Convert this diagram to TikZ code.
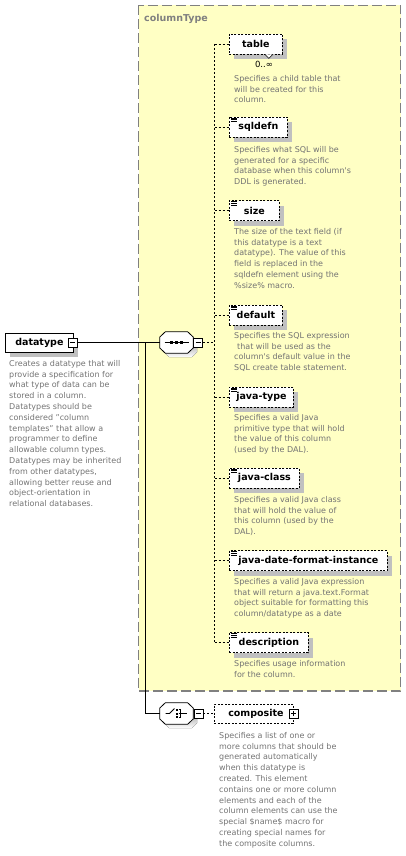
\documentclass[tikz,border=0pt]{standalone}
\usepackage{fontspec}
\setmainfont{DejaVu Sans}
\usetikzlibrary{shadows}
\definecolor{groupbg}{HTML}{FFFFC4}
\definecolor{groupline}{HTML}{808080}
\definecolor{doctext}{HTML}{737373}
\definecolor{shade}{HTML}{C0C0C0}
\newcommand\namefont{\bfseries\fontsize{9.5}{11}\selectfont}
\newcommand\docfont{\fontsize{8}{10.8}\selectfont}
% octagon outline round a compositor node, with its shadow
\newcommand\octpath[2]{([yshift=5.5pt,#2]#1.west) -- ([xshift=5.5pt,#2]#1.north west)
  -- ([xshift=-5.5pt,#2]#1.north east) -- ([yshift=5.5pt,#2]#1.east)
  -- ([yshift=-5.5pt,#2]#1.east) -- ([xshift=-5.5pt,#2]#1.south east)
  -- ([xshift=5.5pt,#2]#1.south west) -- ([yshift=-5.5pt,#2]#1.west) -- cycle}
\newcommand\octagon[1]{%
  \fill[shade] \octpath{#1}{xshift=4pt,yshift=-4pt};
  \filldraw[fill=white, draw=black, line width=0.8pt] \octpath{#1}{};}
\tikzset{
  groupbox/.style={draw=groupline, fill=groupbg, line width=1.3pt, dash pattern=on 10pt off 4pt},
  grouptitle/.style={anchor=west, inner sep=0pt, text=groupline, font=\namefont},
  elem/.style={draw=black, fill=white, line width=0.8pt, dash pattern=on 2pt off 1.5pt,
    minimum height=20pt, inner sep=0pt, anchor=west, font=\namefont,
    drop shadow={shadow xshift=5pt, shadow yshift=-5pt, opacity=1, fill=shade}},
  rootbox/.style={elem, solid},
  optbox/.style={draw=black, fill=white, line width=0.8pt, dash pattern=on 2pt off 1.5pt,
    minimum height=19pt, inner sep=0pt, anchor=west, font=\namefont},
  compositor/.style={minimum width=33pt, minimum height=21pt, inner sep=0pt},
  toggle/.style={draw=black, fill=white, line width=0.6pt, minimum size=9pt, inner sep=0pt,
    path picture={\draw[line width=0.6pt] ([xshift=2pt]path picture bounding box.west)
      -- ([xshift=-2pt]path picture bounding box.east);}},
  expander/.style={toggle,
    path picture={\draw[line width=0.6pt] ([xshift=2pt]path picture bounding box.west)
      -- ([xshift=-2pt]path picture bounding box.east)
      ([yshift=2pt]path picture bounding box.south)
      -- ([yshift=-2pt]path picture bounding box.north);}},
  doc/.style={anchor=north west, align=left, inner sep=0pt, text=doctext, font=\docfont},
  mult/.style={inner sep=0pt, font=\fontsize{8.5}{10}\selectfont},
  wire/.style={draw=black, line width=0.9pt},
  link/.style={draw=black, line width=0.8pt, dash pattern=on 2pt off 2pt},
}
\begin{document}
\begin{tikzpicture}[x=1pt, y=-1pt]
  \useasboundingbox (0,0) rectangle (406,856);
  % complex type group
  \draw[groupbox] (138.5,5.5) rectangle (400.5,691);
  \node[grouptitle] (grpTitle) at (144,19) {columnType};

  % root element
  \node[rootbox, minimum width=68pt, minimum height=19pt] (datatype) at (5,342.5) {datatype\hspace{4pt}};
  \node[toggle] (dtToggle) at (72.5,342.5) {};
  \node[doc] (datatypeDoc) at (9,360) {Creates a datatype that will\\ provide a specification for\\
    what type of data can be\\ stored in a column.\\ Datatypes should be\\ considered "column\\
    templates" that allow a\\ programmer to define\\ allowable column types.\\
    Datatypes may be inherited\\ from other datatypes,\\ allowing better reuse and\\
    object-orientation in\\ relational databases.};
  \coordinate (fork) at (145,342.5);

  % sequence
  \node[compositor] (seq) at (176.5,342.5) {};
  \octagon{seq}
  \draw[line width=0.9pt] ([xshift=-12pt]seq.center) -- ([xshift=12pt]seq.center);
  \foreach \dx in {-5,0,5}
    \fill ([xshift=\dx pt]seq.center) ++(-1.6,-1.6) rectangle ++(3.2,3.2);
  \node[toggle] (seqToggle) at (198,342.5) {};
  \coordinate (spine) at (214.5,0);

  % children of the sequence
  \node[elem, minimum width=53pt] (table) at (229,44) {table};
  \draw[line width=0.6pt, fill=white] ([xshift=9pt]table.south) -- ++(4,4) -- ++(4,-4);
  \node[mult] (tableMult) at (264,64) {0..∞};
  \node[doc] (tableDoc) at (234,75) {Specifies a child table that\\ will be created for this\\ column.};

  \node[elem, minimum width=58pt] (sqldefn) at (229,127) {sqldefn};
  \node[doc] (sqldefnDoc) at (234,146) {Specifies what SQL will be\\ generated for a specific\\
    database when this column\textquotesingle s\\ DDL is generated.};

  \node[elem, minimum width=50pt] (size) at (229,210.5) {size};
  \node[doc] (sizeDoc) at (234,228) {The size of the text field (if\\ this datatype is a text\\
    datatype). The value of this\\ field is replaced in the\\ sqldefn element using the\\ \%size\% macro.};

  \node[elem, minimum width=53pt] (default) at (229,315) {default};
  \node[doc] (defaultDoc) at (234,332) {Specifies the SQL expression\\ \hspace*{3pt}that will be used as the\\
    column\textquotesingle s default value in the\\ SQL create table statement.};

  \node[elem, minimum width=64pt] (javaType) at (229,397) {java-type};
  \node[doc] (javaTypeDoc) at (234,414) {Specifies a valid Java\\ primitive type that will hold\\
    the value of this column\\ (used by the DAL).};

  \node[elem, minimum width=70pt] (javaClass) at (229,478) {java-class};
  \node[doc] (javaClassDoc) at (234,496) {Specifies a valid Java class\\ that will hold the value of\\
    this column (used by the\\ DAL).};

  \node[elem, minimum width=158pt] (javaDate) at (229,560.5) {java-date-format-instance};
  \node[doc] (javaDateDoc) at (234,578) {Specifies a valid Java expression\\ that will return a java.text.Format\\
    object suitable for formatting this\\ column/datatype as a date};

  \node[elem, minimum width=79pt] (description) at (229,642.5) {description};
  \node[doc] (descriptionDoc) at (234,660) {Specifies usage information\\ for the column.};

  % simple content icons
  \foreach \el in {sqldefn,size,default,javaType,javaClass,javaDate,description}
    \foreach \k in {0,1,2}
      \draw[line width=0.5pt] (\el.north west) ++(2,1.5+1.6*\k) -- ++(5.5,0);

  % choice
  \node[compositor] (choice) at (176.5,713.5) {};
  \octagon{choice}
  \draw[line width=0.8pt] ([xshift=-11pt]choice.center) -- ++(4,0) -- ++(5,-5);
  \foreach \dy in {-3.5,0,3.5}
    \fill (choice.center) ++(-1,\dy-1) rectangle ++(2,2);
  \draw[line width=0.8pt] ([xshift=2pt]choice.center) ++(0,-4) -- ++(2,0) -- ++(0,8) -- ++(-2,0)
    ([xshift=2pt]choice.center) -- ++(8,0);
  \node[toggle] (choiceToggle) at (198.5,713.5) {};

  \node[optbox, minimum width=79pt] (composite) at (214,713.5) {\hspace{4pt}composite};
  \node[expander] (compositeToggle) at (293.5,713.5) {};
  \node[doc] (compositeDoc) at (219,732) {Specifies a list of one or\\ more columns that should be\\
    generated automatically\\ when this datatype is\\ created. This element\\
    contains one or more column\\ elements and each of the\\ column elements can use the\\
    special \$name\$ macro for\\ creating special names for\\ the composite columns.};

  % connectors
  \draw[wire] (dtToggle.east) -- (seq.west);
  \draw[wire] (fork) |- (choice.west);
  \draw[link] (seqToggle.east) -- (seqToggle.east -| spine);
  \draw[link] (spine |- table.west) -- (spine |- description.west);
  \foreach \el in {table,sqldefn,size,default,javaType,javaClass,javaDate,description}
    \draw[link] (spine |- \el.west) -- (\el.west);
  \draw[link] (choiceToggle.east) -- (composite.west);
\end{tikzpicture}
\end{document}
